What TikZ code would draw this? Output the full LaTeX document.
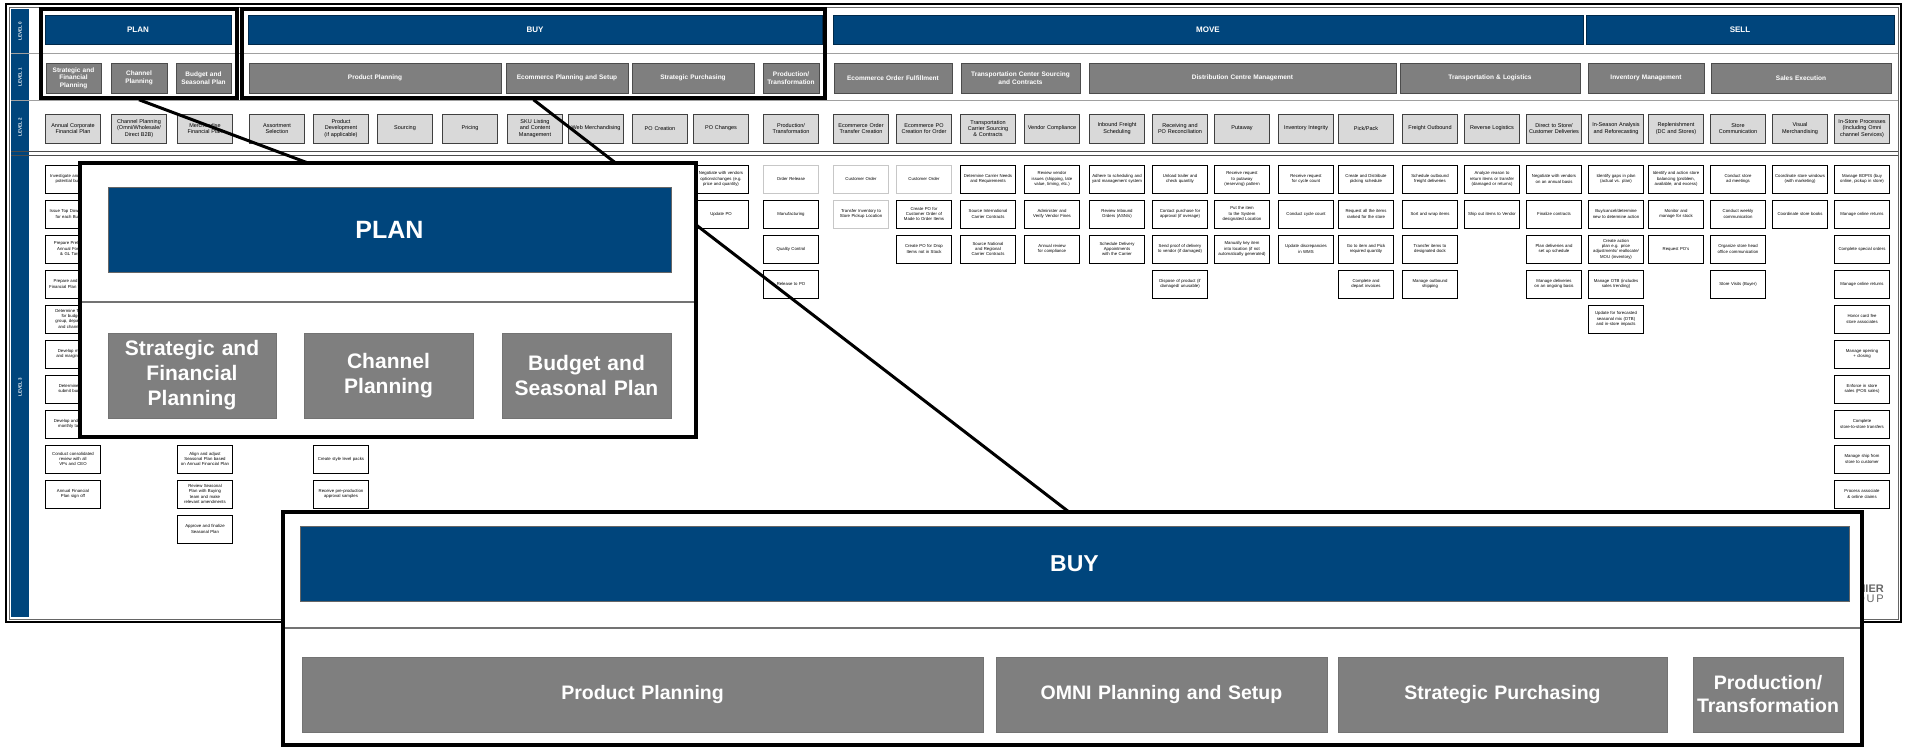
\documentclass[tikz,border=0pt]{standalone}
\usepackage{fontspec}
\setmainfont{Liberation Sans}

\definecolor{lvlblue}{RGB}{0,69,124}
\definecolor{lvlgray}{RGB}{127,127,127}
\definecolor{lvllight}{RGB}{217,217,217}
\definecolor{rulegray}{RGB}{160,160,160}

\tikzset{
  lvllabel/.style={rotate=90, text=white, font=\bfseries\fontsize{4.5}{5}\selectfont, inner sep=0pt},
  lvlzero/.style={fill=lvlblue, draw=lvlblue!60!black, line width=0.6pt, text=white,
    font=\bfseries\fontsize{8}{9}\selectfont, minimum height=29pt, inner sep=0pt},
  lvlone/.style={fill=lvlgray, draw=black!70, line width=0.8pt, text=white, align=center,
    font=\bfseries\fontsize{6.5}{7.5}\selectfont, minimum height=30pt, inner sep=0pt},
  lvltwo/.style={fill=lvllight, draw=black!75, line width=0.8pt, align=center,
    font=\fontsize{5.5}{6.3}\selectfont, text width=52pt, minimum width=55pt,
    minimum height=29pt, inner sep=0pt},
  lvlthree/.style={fill=white, draw=black, line width=0.9pt, align=center,
    font=\fontsize{4.3}{5.3}\selectfont, text width=51pt, minimum width=55pt,
    minimum height=28pt, inner sep=0pt},
  soft/.style={draw=black!22},
  hilite/.style={draw=black, line width=3.5pt, inner sep=0pt},
  zoomline/.style={draw=black, line width=3pt},
  callout/.style={draw=black, line width=4pt, fill=white, inner sep=0pt},
  bigbar/.style={fill=lvlblue, draw=black!60, line width=0.8pt, text=white, inner sep=0pt},
  bigbox/.style={fill=lvlgray, draw=black!55, line width=0.8pt, text=white, align=center, inner sep=0pt},
}

\begin{document}
\hyphenpenalty=10000
\exhyphenpenalty=10000
\begin{tikzpicture}[x=1pt,y=-1pt]
  \useasboundingbox (0,0) rectangle (1905,748);

  % process map frame
  \draw[line width=1.2pt] (6,4) rectangle (1901,622);
  \draw[line width=0.6pt, black!60] (9,7) rectangle (1898,619);
  \fill[lvlblue] (11,9) rectangle (29,617);
  \draw[rulegray, line width=1pt] (11,53) -- (1898,53);
  \draw[rulegray, line width=1pt] (11,100) -- (1898,100);
  \draw[black!70, line width=0.8pt] (11,151) -- (1898,151);
  \draw[black!70, line width=0.8pt] (11,155) -- (1898,155);

  \node[lvllabel] (lvl0) at (20,31)  {LEVEL 0};
  \node[lvllabel] (lvl1) at (20,77)  {LEVEL 1};
  \node[lvllabel] (lvl2) at (20,127) {LEVEL 2};
  \node[lvllabel] (lvl3) at (20,387) {LEVEL 3};

  % level 0
  \node[lvlzero, minimum width=186pt] (plan) at (138,29.5)  {PLAN};
  \node[lvlzero, minimum width=574pt] (buy)  at (535,29.5)  {BUY};
  \node[lvlzero, minimum width=750pt] (move) at (1208,29.5) {MOVE};
  \node[lvlzero, minimum width=308pt] (sell) at (1740,29.5) {SELL};

  % level 1
  \node[lvlone, minimum width=55pt, text width=52pt]   (sfp)  at (73.5,78)  {Strategic and\\Financial\\Planning};
  \node[lvlone, minimum width=56pt, text width=52pt]   (chp)  at (139,78)   {Channel\\Planning};
  \node[lvlone, minimum width=55pt, text width=52pt]   (bsp)  at (203.5,78) {Budget and\\Seasonal Plan};
  \node[lvlone, minimum width=252pt, text width=240pt] (pp)   at (375,78)   {Product Planning};
  \node[lvlone, minimum width=122pt, text width=118pt] (eps)  at (567,78)   {Ecommerce Planning and Setup};
  \node[lvlone, minimum width=122pt, text width=118pt] (sp)   at (693,78)   {Strategic Purchasing};
  \node[lvlone, minimum width=56pt, text width=54pt]   (prt)  at (791,78)   {Production/\\Transformation};
  \node[lvlone, minimum width=118pt, text width=114pt] (eof)  at (893,78)   {Ecommerce Order Fulfillment};
  \node[lvlone, minimum width=119pt, text width=115pt] (tcs)  at (1020.5,78){Transportation Center Sourcing\\and Contracts};
  \node[lvlone, minimum width=307pt, text width=300pt] (dcm)  at (1242.5,78){Distribution Centre Management};
  \node[lvlone, minimum width=180pt, text width=176pt] (tl)   at (1490,78)  {Transportation \& Logistics};
  \node[lvlone, minimum width=116pt, text width=112pt] (im)   at (1646,78)  {Inventory Management};
  \node[lvlone, minimum width=180pt, text width=176pt] (se)   at (1801,78)  {Sales Execution};

  % level 2
  \node[lvltwo] (acfp) at (73,128.5)   {Annual Corporate Financial Plan};
  \node[lvltwo] (chpl) at (139,128.5)  {Channel Planning (Omni/Wholesale/ Direct B2B)};
  \node[lvltwo] (mfp)  at (205,128.5)  {Merchandise Financial Plan};
  \node[lvltwo] (asel) at (277,128.5)  {Assortment Selection};
  \node[lvltwo] (pdev) at (341,128.5)  {Product Development (if applicable)};
  \node[lvltwo] (src)  at (405,128.5)  {Sourcing};
  \node[lvltwo] (prc)  at (470,128.5)  {Pricing};
  \node[lvltwo] (sku)  at (535,128.5)  {SKU Listing and Content Management};
  \node[lvltwo] (web)  at (596,128.5)  {Web Merchandising};
  \node[lvltwo] (poc)  at (660,128.5)  {PO Creation};
  \node[lvltwo] (pochg) at (721,128.5) {PO Changes};
  \node[lvltwo] (prod) at (791,128.5)  {Production/ Transformation};
  \node[lvltwo] (eotc) at (861,128.5)  {Ecommerce Order Transfer Creation};
  \node[lvltwo] (epoc) at (924,128.5)  {Ecommerce PO Creation for Order};
  \node[lvltwo] (tcsc) at (988,128.5)  {Transportation Carrier Sourcing \& Contracts};
  \node[lvltwo] (vc)   at (1052,128.5) {Vendor Compliance};
  \node[lvltwo] (ifs)  at (1117,128.5) {Inbound Freight Scheduling};
  \node[lvltwo] (rpo)  at (1180,128.5) {Receiving and PO Reconciliation};
  \node[lvltwo] (put)  at (1242,128.5) {Putaway};
  \node[lvltwo] (ii)   at (1306,128.5) {Inventory Integrity};
  \node[lvltwo] (pick) at (1366,128.5) {Pick/Pack};
  \node[lvltwo] (fo)   at (1430,128.5) {Freight Outbound};
  \node[lvltwo] (rl)   at (1492,128.5) {Reverse Logistics};
  \node[lvltwo] (dsc)  at (1554,128.5) {Direct to Store/ Customer Deliveries};
  \node[lvltwo] (isa)  at (1616,128.5) {In-Season Analysis and Reforecasting};
  \node[lvltwo] (rep)  at (1676,128.5) {Replenishment (DC and Stores)};
  \node[lvltwo] (sc)   at (1738,128.5) {Store Communication};
  \node[lvltwo] (vm)   at (1800,128.5) {Visual Merchandising};
  \node[lvltwo] (isp)  at (1862,128.5) {In-Store Processes (Including Omni channel Services)};

  % level 3
  \foreach \t [count=\r from 0] in {{Investigate and analyze potential business},{Issue Top Down Targets for each Business},
      {Prepare Preliminary Annual Forecast \& GL Targets},{Prepare and Submit Financial Plan for review},
      {Determine Targets for budgets, group, department and channeling},{Develop market and margin plans},
      {Determine and submit budgets},{Develop and submit monthly targets},
      {Conduct consolidated review with all VPs and CEO},{Annual Financial Plan sign off}}
    \node[lvlthree] (acfp-\r) at (73,{179+35*\r}) {\t};
  \foreach \t [count=\r from 8] in {{Align and adjust Seasonal Plan based on Annual Financial Plan},
      {Review Seasonal Plan with Buying team and make relevant amendments},{Approve and finalize Seasonal Plan}}
    \node[lvlthree] (mfp-\r) at (205,{179+35*\r}) {\t};
  \foreach \t [count=\r from 8] in {{Create style level packs},{Receive pre-production approval samples}}
    \node[lvlthree] (pdev-\r) at (341,{179+35*\r}) {\t};
  \foreach \t [count=\r from 0] in {{Negotiate with vendors options/changes (e.g. price and quantity)},{Update PO}}
    \node[lvlthree] (pochg-\r) at (721,{179+35*\r}) {\t};
  \node[lvlthree, soft] (prod-0) at (791,179) {Order Release};
  \foreach \t [count=\r from 1] in {{Manufacturing},{Quality Control},{Release to PO}}
    \node[lvlthree] (prod-\r) at (791,{179+35*\r}) {\t};
  \node[lvlthree, soft] (eotc-0) at (861,179) {Customer Order};
  \node[lvlthree, soft] (eotc-1) at (861,214) {Transfer Inventory to Store Pickup Location};
  \node[lvlthree, soft] (epoc-0) at (924,179) {Customer Order};
  \foreach \t [count=\r from 1] in {{Create PO for Customer Order of Made to Order Items},{Create PO for Drop Items not in Stock}}
    \node[lvlthree] (epoc-\r) at (924,{179+35*\r}) {\t};
  \foreach \t [count=\r from 0] in {{Determine Carrier Needs and Requirements},{Source International Carrier Contracts},
      {Source National and Regional Carrier Contracts}}
    \node[lvlthree] (tcsc-\r) at (988,{179+35*\r}) {\t};
  \foreach \t [count=\r from 0] in {{Review vendor issues (shipping, late value, timing, etc.)},{Administer and Verify Vendor Fines},
      {Annual review for compliance}}
    \node[lvlthree] (vc-\r) at (1052,{179+35*\r}) {\t};
  \foreach \t [count=\r from 0] in {{Adhere to scheduling and yard management system},{Review Inbound Orders (ASN/s)},
      {Schedule Delivery Appointments with the Carrier}}
    \node[lvlthree] (ifs-\r) at (1117,{179+35*\r}) {\t};
  \foreach \t [count=\r from 0] in {{Unload trailer and check quantity},{Contact purchase for approval (if overage)},
      {Send proof of delivery to vendor (if damaged)},{Dispose of product (if damaged/ unusable)}}
    \node[lvlthree] (rpo-\r) at (1180,{179+35*\r}) {\t};
  \foreach \t [count=\r from 0] in {{Receive request to putaway (reserving) pattern},{Put the item to the System designated Location},
      {Manually key item into location (if not automatically generated)}}
    \node[lvlthree] (put-\r) at (1242,{179+35*\r}) {\t};
  \foreach \t [count=\r from 0] in {{Receive request for cycle count},{Conduct cycle count},{Update discrepancies in WMS}}
    \node[lvlthree] (ii-\r) at (1306,{179+35*\r}) {\t};
  \foreach \t [count=\r from 0] in {{Create and Distribute picking schedule},{Request all the items ranked for the store},
      {Go to item and Pick required quantity},{Complete and depart invoices}}
    \node[lvlthree] (pick-\r) at (1366,{179+35*\r}) {\t};
  \foreach \t [count=\r from 0] in {{Schedule outbound freight deliveries},{Sort and wrap items},
      {Transfer items to designated dock},{Manage outbound shipping}}
    \node[lvlthree] (fo-\r) at (1430,{179+35*\r}) {\t};
  \foreach \t [count=\r from 0] in {{Analyze reason to return items or transfer (damaged or returns)},{Ship out items to Vendor}}
    \node[lvlthree] (rl-\r) at (1492,{179+35*\r}) {\t};
  \foreach \t [count=\r from 0] in {{Negotiate with vendors on an annual basis},{Finalize contracts},
      {Plan deliveries and set up schedule},{Manage deliveries on an ongoing basis}}
    \node[lvlthree] (dsc-\r) at (1554,{179+35*\r}) {\t};
  \foreach \t [count=\r from 0] in {{Identify gaps in plan (actual vs. plan)},{Buy/cancel/determine new to determine action},
      {Create action plan e.g. price adjustments/ reallocate/ MOU (inventory)},{Manage OTB (includes sales trending)},
      {Update for forecasted seasonal mix (OTB) and in-store impacts}}
    \node[lvlthree] (isa-\r) at (1616,{179+35*\r}) {\t};
  \foreach \t [count=\r from 0] in {{Identify and action store balancing (problem, available, and excess)},
      {Monitor and manage for stock},{Request PO's}}
    \node[lvlthree] (rep-\r) at (1676,{179+35*\r}) {\t};
  \foreach \t [count=\r from 0] in {{Conduct store ad meetings},{Conduct weekly communication},
      {Organize store head office communication},{Store Visits (Buyer)}}
    \node[lvlthree] (sc-\r) at (1738,{179+35*\r}) {\t};
  \foreach \t [count=\r from 0] in {{Coordinate store windows (with marketing)},{Coordinate store books}}
    \node[lvlthree] (vm-\r) at (1800,{179+35*\r}) {\t};
  \foreach \t [count=\r from 0] in {{Manage BOPIS (buy online, pickup in store)},{Manage online returns},
      {Complete special orders},{Manage online returns},{Honor card fee store associates},
      {Manage opening + closing},{Enforce in store sales (POS sales)},{Complete store-to-store transfers},
      {Manage ship from store to customer},{Process associate \& online claims}}
    \node[lvlthree] (isp-\r) at (1862,{179+35*\r}) {\t};

  \node[anchor=north east, align=right, inner sep=0pt, text=black!60,
    font=\fontsize{11}{10}\selectfont] (brand) at (1884,585) {\textbf{PREMIER}\\G\,R\,O\,U\,P};

  % highlighted areas and zoom lines
  \node[hilite, minimum width=196pt, minimum height=89pt] (planhl) at (139,53.5) {};
  \node[hilite, minimum width=583pt, minimum height=89pt] (buyhl)  at (533.5,53.5) {};
  \coordinate (planjoin) at (308,163);
  \coordinate (buyjoin)  at (1069,512);
  \draw[zoomline] (planhl.south) -- (planjoin);
  \draw[zoomline] (buyhl.south) -- (buyjoin);

  % PLAN close-up
  \node[callout, minimum width=616pt, minimum height=274pt] (plancall) at (388,300) {};
  \node[bigbar, minimum width=563pt, minimum height=85pt, font=\bfseries\fontsize{25}{30}\selectfont]
    (planbar) at (389.5,229.5) {PLAN};
  \draw[black!55, line width=1.5pt] (82,302) -- (694,302);
  \node[bigbox, minimum width=168pt, minimum height=85pt, text width=164pt, font=\bfseries\fontsize{21}{25}\selectfont]
    (plansfp) at (192,375.5) {Strategic and\\Financial\\Planning};
  \node[bigbox, minimum width=169pt, minimum height=85pt, text width=165pt, font=\bfseries\fontsize{21}{25}\selectfont]
    (planchp) at (388.5,375.5) {Channel\\Planning};
  \node[bigbox, minimum width=169pt, minimum height=85pt, text width=165pt, font=\bfseries\fontsize{21}{25}\selectfont]
    (planbsp) at (586.5,375.5) {Budget and\\Seasonal Plan};

  % BUY close-up
  \node[callout, minimum width=1579pt, minimum height=233pt] (buycall) at (1072.5,628.5) {};
  \node[bigbar, minimum width=1549pt, minimum height=75pt, font=\bfseries\fontsize{23}{28}\selectfont]
    (buybar) at (1074.5,563.5) {BUY};
  \draw[black!55, line width=1.5pt] (285,628) -- (1860,628);
  \node[bigbox, minimum width=681pt, minimum height=75pt, text width=670pt, font=\bfseries\fontsize{19.5}{23}\selectfont]
    (buypp) at (642.5,694.5) {Product Planning};
  \node[bigbox, minimum width=331pt, minimum height=75pt, text width=325pt, font=\bfseries\fontsize{19.5}{23}\selectfont]
    (buyomni) at (1161.5,694.5) {OMNI Planning and Setup};
  \node[bigbox, minimum width=329pt, minimum height=75pt, text width=323pt, font=\bfseries\fontsize{19.5}{23}\selectfont]
    (buysp) at (1502.5,694.5) {Strategic Purchasing};
  \node[bigbox, minimum width=150pt, minimum height=75pt, text width=148pt, font=\bfseries\fontsize{19.5}{23}\selectfont]
    (buyprt) at (1768,694.5) {Production/\\Transformation};
\end{tikzpicture}
\end{document}
